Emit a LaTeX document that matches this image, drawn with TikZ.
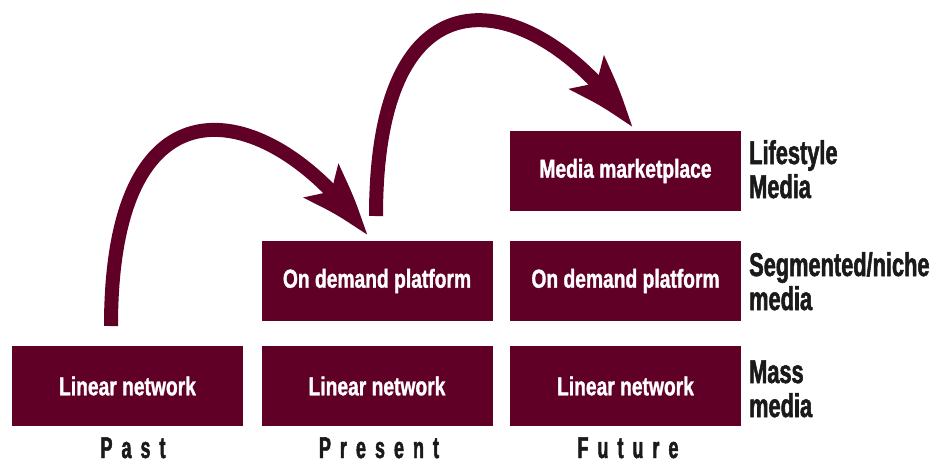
\documentclass[tikz,border=0pt]{standalone}
\usepackage{fontspec}
\setmainfont{Liberation Sans}
\newfontfamily\boxfont{Liberation Sans}[FakeStretch=0.74,FakeBold=1.2]
\newfontfamily\sidefont{Liberation Sans}[FakeStretch=0.66,FakeBold=1.6]
\newfontfamily\eraf{Liberation Sans}[FakeStretch=0.6,LetterSpace=30,FakeBold=1.6]
\usetikzlibrary{arrows.meta,bending}
\definecolor{wine}{RGB}{96,0,38}
\definecolor{ink}{RGB}{26,26,26}
\tikzset{
  stagebox/.style={fill=wine, draw=none, minimum width=231pt, minimum height=80pt, inner sep=0pt,
    text=white, font=\boxfont\bfseries\fontsize{26}{28}\selectfont},
  sidelbl/.style={anchor=base west, align=left, inner sep=0pt, text=ink,
    font=\sidefont\bfseries\fontsize{33}{34}\selectfont},
  eralbl/.style={anchor=base, inner sep=0pt, text=ink, font=\eraf\bfseries\fontsize{30}{32}\selectfont},
  jump/.style={draw=wine, line width=14pt, -{Stealth[length=72pt,width=46pt,inset=14pt,bend]}}
}
\begin{document}
\begin{tikzpicture}[x=1pt,y=-1pt]
\useasboundingbox (0,0) rectangle (945,464);
% boxes
\node[stagebox] (pastlin) at (127.5,386) {Linear network};
\node[stagebox] (preslin) at (377,386) {Linear network};
\node[stagebox] (presdem) at (377,281) {On demand platform};
\node[stagebox] (futlin) at (625.5,386) {Linear network};
\node[stagebox] (futdem) at (625.5,281) {On demand platform};
\node[stagebox] (futmkt) at (625.5,171) {Media marketplace};
% side labels (anchor at baseline of last line)
\node[sidelbl] (lblife) at (749,198) {Lifestyle\\Media};
\node[sidelbl] (lbseg) at (749,310) {Segmented/niche\\media};
\node[sidelbl] (lbmass) at (749,417) {Mass\\media};
% era labels
\node[eralbl] (past) at (133,458) {Past};
\node[eralbl] (present) at (379,458) {Present};
\node[eralbl] (future) at (628,458) {Future};
% arrows
\coordinate (a1s) at (111,326);
\coordinate (a1e) at (367,236);
\coordinate (a2s) at (376,216);
\coordinate (a2e) at (632,128);
\draw[jump] (a1s) .. controls (111,55) and (280,105) .. (a1e);
\draw[jump] (a2s) .. controls (376,-55) and (545,-5) .. (a2e);
\end{tikzpicture}
\end{document}
